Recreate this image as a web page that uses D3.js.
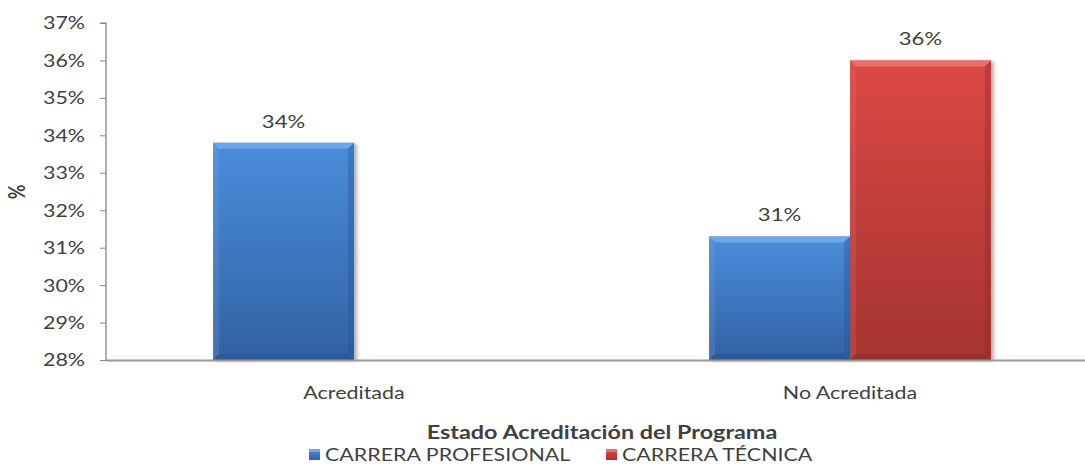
<!DOCTYPE html>
<html>
<head>
<meta charset="utf-8">
<script src="https://cdn.jsdelivr.net/npm/d3@7"></script>
<style>
  body { margin: 0; background: #fff; }
  svg { display: block; }
  text { font-family: Lato, "Open Sans", sans-serif; fill: #404040; }
</style>
</head>
<body>
<svg id="chart" width="1085" height="466"></svg>
<script>
// data
const categories = ["Acreditada", "No Acreditada"];
const seriesNames = ["CARRERA PROFESIONAL", "CARRERA TÉCNICA"];
const profesional = [33.8, 31.3];
const tecnica = [null, 36.0];
const yTicks = [28, 29, 30, 31, 32, 33, 34, 35, 36, 37];

const colors = {
    "CARRERA PROFESIONAL": { top: "#4a8ddc", bot: "#3262a3", light: "#7aaef0", dark: "#284f86" },
    "CARRERA TÉCNICA": { top: "#dc4845", bot: "#a53431", light: "#f27a78", dark: "#86282a" }
};

// the original picture is stretched sideways, so draw everything in a narrower
// space and scale it out
const SX = 1.3;
const plotLeft = 106 / SX, plotRight = 1098 / SX;
const plotTop = 23, plotBottom = 360;

const svg = d3.select("#chart");
const root = svg.append("g").attr("transform", `scale(${SX},1)`);

const defs = svg.append("defs");
Object.entries(colors).forEach(([name, c], i) => {
    const g = defs.append("linearGradient")
        .attr("id", "grad-" + i)
        .attr("x1", 0).attr("y1", 0).attr("x2", 0).attr("y2", 1);
    g.append("stop").attr("offset", "0%").attr("stop-color", c.top);
    g.append("stop").attr("offset", "100%").attr("stop-color", c.bot);
});
const shadow = defs.append("filter").attr("id", "shadow")
    .attr("x", "-10%").attr("y", "-10%").attr("width", "130%").attr("height", "130%");
shadow.append("feDropShadow")
    .attr("dx", 2).attr("dy", 1).attr("stdDeviation", 1.6)
    .attr("flood-color", "#000").attr("flood-opacity", 0.35);

const data = categories.map((c, i) => ({
    cat: c,
    values: [
        { s: seriesNames[0], v: profesional[i], k: 0 },
        { s: seriesNames[1], v: tecnica[i], k: 1 }
    ]
}));

const x0 = d3.scaleBand().domain(categories).range([plotLeft, plotRight]);
const x1 = d3.scaleBand().domain(seriesNames)
    .range([0, x0.bandwidth()])
    .paddingInner(0).paddingOuter(0.76);
const y = d3.scaleLinear().domain([28, 37]).range([plotBottom, plotTop]);

// y axis
const yAxis = root.append("g")
    .attr("transform", `translate(${plotLeft},0)`)
    .call(d3.axisLeft(y).tickValues(yTicks).tickFormat(d => d + "%").tickSize(6 / SX).tickPadding(15 / SX));
yAxis.select(".domain").attr("stroke", "#868686").attr("d", `M${-6 / SX},${plotTop}H0V${plotBottom}`);
yAxis.selectAll(".tick line").attr("stroke", "#868686");
yAxis.selectAll(".tick text")
    .style("font-size", "16.5px").attr("fill", "#404040").attr("dy", "0.36em");

// bars
const bevel = 6;
const groups = root.selectAll(".grp").data(data).enter().append("g")
    .attr("class", "grp")
    .attr("transform", d => `translate(${x0(d.cat)},0)`);

groups.each(function (d) {
    const g = d3.select(this);
    d.values.filter(e => e.v != null).forEach(e => {
        const c = colors[e.s];
        const bx = x1(e.s), bw = x1.bandwidth();
        const by = y(e.v), bb = plotBottom;
        const bv = bevel / SX;
        const bar = g.append("g");
        bar.append("rect")
            .attr("x", bx).attr("y", by).attr("width", bw).attr("height", bb - by)
            .attr("fill", `url(#grad-${e.k})`).attr("filter", "url(#shadow)");
        // top bevel
        bar.append("polygon")
            .attr("points", `${bx},${by} ${bx + bw},${by} ${bx + bw - bv},${by + bevel} ${bx + bv},${by + bevel}`)
            .attr("fill", c.light).attr("opacity", 0.75);
        // left bevel
        bar.append("polygon")
            .attr("points", `${bx},${by} ${bx + bv},${by + bevel} ${bx + bv},${bb - bevel} ${bx},${bb}`)
            .attr("fill", c.light).attr("opacity", 0.2);
        // right bevel
        bar.append("polygon")
            .attr("points", `${bx + bw},${by} ${bx + bw - bv},${by + bevel} ${bx + bw - bv},${bb - bevel} ${bx + bw},${bb}`)
            .attr("fill", c.dark).attr("opacity", 0.35);
        // bottom bevel
        bar.append("polygon")
            .attr("points", `${bx},${bb} ${bx + bv},${bb - bevel} ${bx + bw - bv},${bb - bevel} ${bx + bw},${bb}`)
            .attr("fill", c.dark).attr("opacity", 0.45);
        // value label
        g.append("text")
            .attr("x", bx + bw / 2).attr("y", by - 15)
            .attr("text-anchor", "middle")
            .style("font-size", "17px")
            .text(Math.round(e.v) + "%");
    });
});

// x axis line
root.append("line")
    .attr("x1", plotLeft).attr("x2", plotRight).attr("y1", plotBottom + 0.5).attr("y2", plotBottom + 0.5)
    .attr("stroke", "#9a9a9a").attr("stroke-width", 2);

// category labels
root.selectAll(".cat").data(categories).enter().append("text")
    .attr("class", "cat")
    .attr("x", d => x0(d) + x0.bandwidth() / 2)
    .attr("y", 399)
    .attr("text-anchor", "middle")
    .style("font-size", "16.5px")
    .text(d => d);

// axis titles
root.append("text")
    .attr("transform", `translate(${25 / SX},192) rotate(-90)`)
    .attr("text-anchor", "middle")
    .style("font-size", "18px").style("font-weight", "bold")
    .attr("fill", "#222")
    .text("%");

root.append("text")
    .attr("x", (plotLeft + plotRight) / 2).attr("y", 439)
    .attr("text-anchor", "middle")
    .style("font-size", "18px").style("font-weight", "bold")
    .attr("fill", "#111")
    .text("Estado Acreditación del Programa");

// legend
const legendX = [309 / SX, 606 / SX];
const legend = root.selectAll(".leg").data(seriesNames).enter().append("g")
    .attr("class", "leg")
    .attr("transform", (d, i) => `translate(${legendX[i]},0)`);
legend.append("rect")
    .attr("x", 0).attr("y", 449).attr("width", 11 / SX).attr("height", 11)
    .attr("fill", (d, i) => `url(#grad-${i})`);
legend.append("rect")
    .attr("x", 0).attr("y", 449).attr("width", 11 / SX).attr("height", 3)
    .attr("fill", d => colors[d].light).attr("opacity", 0.8);
legend.append("text")
    .attr("x", 16 / SX).attr("y", 461)
    .style("font-size", "16.5px")
    .attr("fill", "#222")
    .text(d => d);
</script>
</body>
</html>
